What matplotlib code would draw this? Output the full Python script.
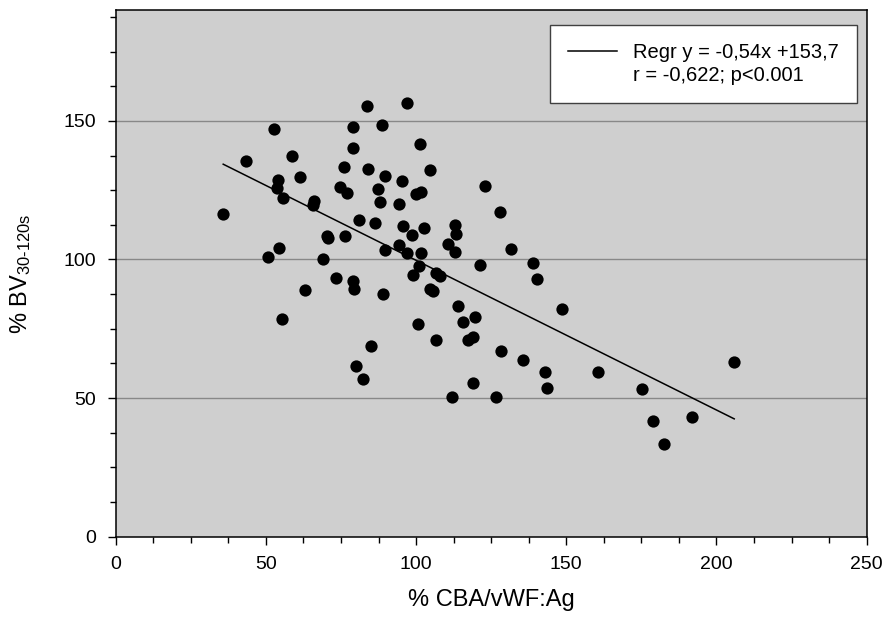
import numpy as np
import matplotlib
matplotlib.use("Agg")
import matplotlib.pyplot as plt
from matplotlib.ticker import MultipleLocator
from matplotlib.lines import Line2D

plt.rcParams['font.family'] = ['Liberation Sans', 'DejaVu Sans']
plt.rcParams['mathtext.fontset'] = 'custom'
plt.rcParams['mathtext.rm'] = 'Liberation Sans'
plt.rcParams['mathtext.it'] = 'Liberation Sans'

# % CBA/vWF:Ag (x) vs % BV 30-120s (y)
cba = [35.8, 43.5, 52.8, 53.9, 53.7, 55.6, 58.8, 61.4, 50.7, 54.5,
       66.1, 65.8, 70.2, 70.6, 69.0, 73.3, 79.0, 79.5, 76.4, 81.1,
       86.3, 75.9, 74.6, 77.1, 79.0, 79.0, 83.8, 88.7, 97.0, 84.1,
       87.3, 87.9, 89.5, 95.2, 94.2, 101.3, 104.5, 99.9, 101.5, 95.7,
       98.6, 102.6, 94.3, 89.7, 97.1, 101.7, 110.5, 101.0, 98.9, 106.5,
       108.0, 127.8, 113.0, 113.4, 113.0, 131.6, 121.4, 138.8, 140.2, 89.1,
       104.7, 105.5, 113.9, 115.7, 119.5, 100.6, 148.7, 117.4, 118.8, 106.5,
       84.9, 128.2, 135.5, 80.1, 82.4, 142.9, 143.6, 118.8, 111.9, 126.5,
       63.1, 55.4, 160.7, 175.2, 205.9, 179.0, 191.9, 182.5, 122.9]
bv = [116.3, 135.7, 147.2, 128.8, 125.8, 122.2, 137.2, 129.6, 100.9, 104.0,
      121.0, 119.6, 108.4, 107.6, 100.0, 93.4, 92.4, 89.3, 108.6, 114.4,
      113.0, 133.2, 126.0, 123.8, 147.8, 140.2, 155.2, 148.4, 156.6, 132.6,
      125.6, 120.9, 130.1, 128.2, 119.9, 141.5, 132.1, 123.5, 124.5, 112.1,
      108.9, 111.2, 105.4, 103.5, 102.3, 102.2, 105.6, 97.6, 94.4, 95.2,
      94.0, 117.1, 112.3, 109.1, 102.7, 103.6, 98.1, 98.7, 92.9, 87.5,
      89.2, 88.6, 83.2, 77.6, 79.1, 76.9, 82.0, 70.9, 72.2, 70.8,
      68.9, 67.1, 63.8, 61.6, 56.9, 59.3, 53.5, 55.4, 50.4, 50.5,
      89.0, 78.5, 59.3, 53.2, 63.2, 41.8, 43.2, 33.4, 126.4]

slope = -0.54
intercept = 153.7
legend_lines = ["Regr y = -0,54x +153,7", "r = -0,622; p<0.001"]

fig = plt.figure(figsize=(8.87, 6.23), dpi=100)
ax = fig.add_axes([0.1304, 0.1385, 0.8467, 0.8455])
ax.set_facecolor('#cfcfcf')

ax.set_xlim(0, 250)
ax.set_ylim(0, 190)
for y in [50, 100, 150]:
    ax.axhline(y, color='#888888', lw=1.0, zorder=1)

ax.scatter(cba, bv, s=78, color='black', zorder=3, linewidths=0)

xs = np.array([min(cba), max(cba)])
ax.plot(xs, slope * xs + intercept, color='black', lw=1.1, zorder=2)

ax.xaxis.set_major_locator(MultipleLocator(50))
ax.xaxis.set_minor_locator(MultipleLocator(12.5))
ax.yaxis.set_major_locator(MultipleLocator(50))
ax.yaxis.set_minor_locator(MultipleLocator(12.5))
ax.yaxis.set_major_formatter(lambda v, p: '%d' % v if v <= 150 else '')
ax.tick_params(which='both', direction='out', width=1.0, labelsize=14)
ax.tick_params(which='major', length=6, pad=8)
ax.tick_params(which='minor', length=4)
for sp in ax.spines.values():
    sp.set_linewidth(1.1)
    sp.set_color('black')

ax.set_xlabel('% CBA/vWF:Ag', fontsize=17)
ax.xaxis.set_label_coords(0.5, -0.1)
ax.xaxis.label.set_va('top')
ax.set_ylabel('% BV$_{\\text{30-120s}}$', fontsize=17)
ax.yaxis.set_label_coords(-0.11, 0.5)

handles = [Line2D([], [], color='black', lw=1.1), Line2D([], [], color='none')]
leg = ax.legend(handles, legend_lines, loc='upper right',
                bbox_to_anchor=(856.7 / 887, 1 - 25 / 623), bbox_transform=fig.transFigure,
                fontsize=14.5, frameon=True, fancybox=False, framealpha=1,
                edgecolor='#404040', borderpad=0.9, labelspacing=0.2,
                handlelength=2.4, handletextpad=0.8, borderaxespad=0)
leg.get_frame().set_linewidth(1.0)

fig.savefig('out.png', dpi=100)
